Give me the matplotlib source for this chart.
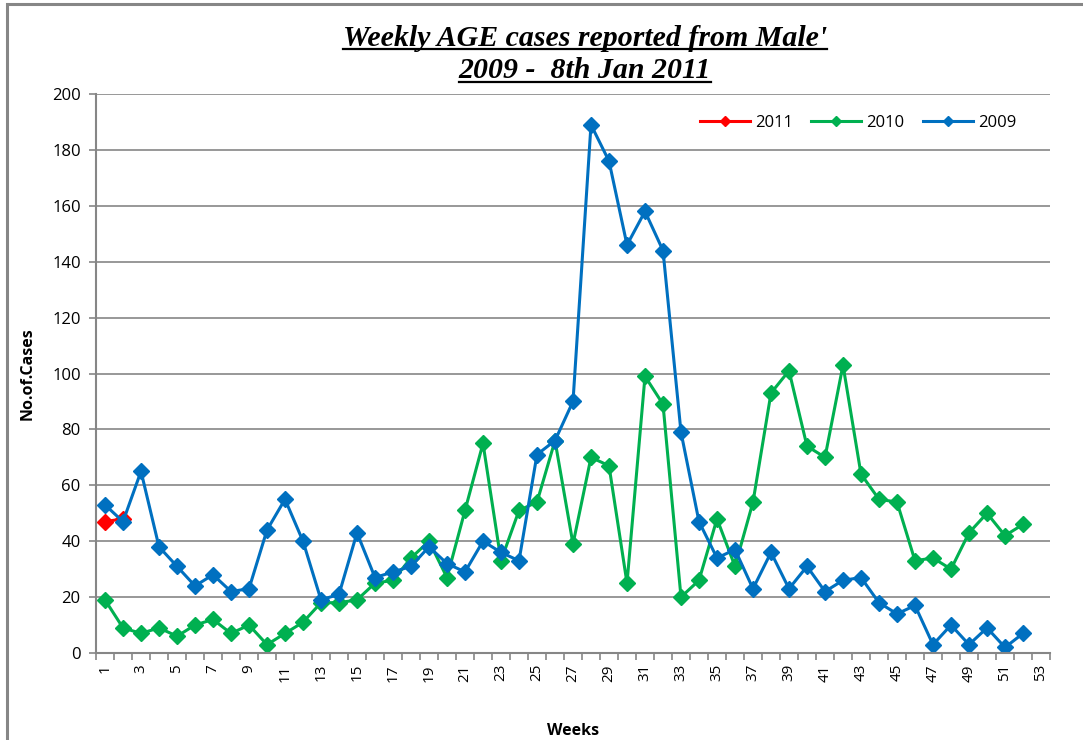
import matplotlib.pyplot as plt
from matplotlib.lines import Line2D
from matplotlib.patches import Rectangle

weeks = list(range(1, 53))

cases_2009 = [53, 47, 65, 38, 31, 24, 28, 22, 23, 44, 55, 40, 19, 21, 43, 27,
              29, 31, 38, 32, 29, 40, 36, 33, 71, 76, 90, 189, 176, 146, 158, 144,
              79, 47, 34, 37, 23, 36, 23, 31, 22, 26, 27, 18, 14, 17, 3, 10,
              3, 9, 2, 7]
cases_2010 = [19, 9, 7, 9, 6, 10, 12, 7, 10, 3, 7, 11, 18, 18, 19, 25,
              26, 34, 40, 27, 51, 75, 33, 51, 54, 76, 39, 70, 67, 25, 99, 89,
              20, 26, 48, 31, 54, 93, 101, 74, 70, 103, 64, 55, 54, 33, 34, 30,
              43, 50, 42, 46]
weeks_2011 = [1, 2]
cases_2011 = [47, 48]

fig = plt.figure(figsize=(10.83, 7.40), dpi=100)
fig.patches.append(Rectangle((7 / 1083, -0.2), 1.2, 1.2 - 4 / 740, transform=fig.transFigure,
                             fill=False, edgecolor='#868686', linewidth=2.2))
ax = fig.add_axes([96 / 1083, 87 / 740, 954 / 1083, 559 / 740])

ax.plot(weeks_2011, cases_2011, color='#FF0000', marker='D', markersize=8.5,
        linewidth=2.2, label='2011')
ax.plot(weeks, cases_2010, color='#00B050', marker='D', markersize=8.5,
        linewidth=2.2, label='2010')
ax.plot(weeks, cases_2009, color='#0070C0', marker='D', markersize=8.5,
        linewidth=2.2, label='2009')

ax.set_xlim(0.5, 53.5)
ax.set_ylim(0, 200)
ax.set_yticks(range(0, 201, 20))
ax.set_xticks(range(1, 54, 2))
ax.set_xticklabels([str(w) for w in range(1, 54, 2)], rotation=90)
ax.set_xticks([w + 0.5 for w in range(0, 54)], minor=True)
ax.tick_params(axis='x', which='major', length=0, pad=8, labelsize=11)
ax.tick_params(axis='x', which='minor', length=5, color='#868686', width=1.2)
ax.tick_params(axis='y', length=5, color='#868686', width=1.2, pad=6, labelsize=12)
for lab in ax.get_xticklabels() + ax.get_yticklabels():
    lab.set_family('Open Sans')

ax.grid(axis='y', color='#868686', linewidth=1.2)
ax.set_axisbelow(True)
for s in ['top', 'right']:
    ax.spines[s].set_visible(False)
for s in ['left', 'bottom']:
    ax.spines[s].set_color('#868686')
    ax.spines[s].set_linewidth(1.5)

ax.set_ylabel('No.of.Cases', fontsize=11.5, fontweight='bold', family='Open Sans', labelpad=12)
ax.set_xlabel('Weeks', fontsize=11.5, fontweight='bold', family='Open Sans', labelpad=30)

ax.legend(loc='upper right', bbox_to_anchor=(0.98, 0.99), ncol=3, frameon=False,
          prop={'family': 'Open Sans', 'size': 12}, markerscale=0.6,
          handlelength=3.0, columnspacing=1.1, handletextpad=0.3)

t1 = fig.text(585 / 1083, 1 - 38 / 740, "Weekly AGE cases reported from Male'",
              ha='center', va='center', family='Liberation Serif', fontsize=21.5,
              fontweight='bold', style='italic')
t2 = fig.text(585 / 1083, 1 - 71 / 740, "2009 -  8th Jan 2011",
              ha='center', va='center', family='Liberation Serif', fontsize=21.5,
              fontweight='bold', style='italic')

fig.canvas.draw()
r = fig.canvas.get_renderer()
for t in (t1, t2):
    bb = t.get_window_extent(r).transformed(fig.transFigure.inverted())
    yline = bb.y0 + 0.1 * (bb.y1 - bb.y0)
    fig.add_artist(Line2D([bb.x0, bb.x1], [yline, yline], transform=fig.transFigure,
                          color='black', linewidth=1.6))

fig.savefig('out.png', dpi=100)
